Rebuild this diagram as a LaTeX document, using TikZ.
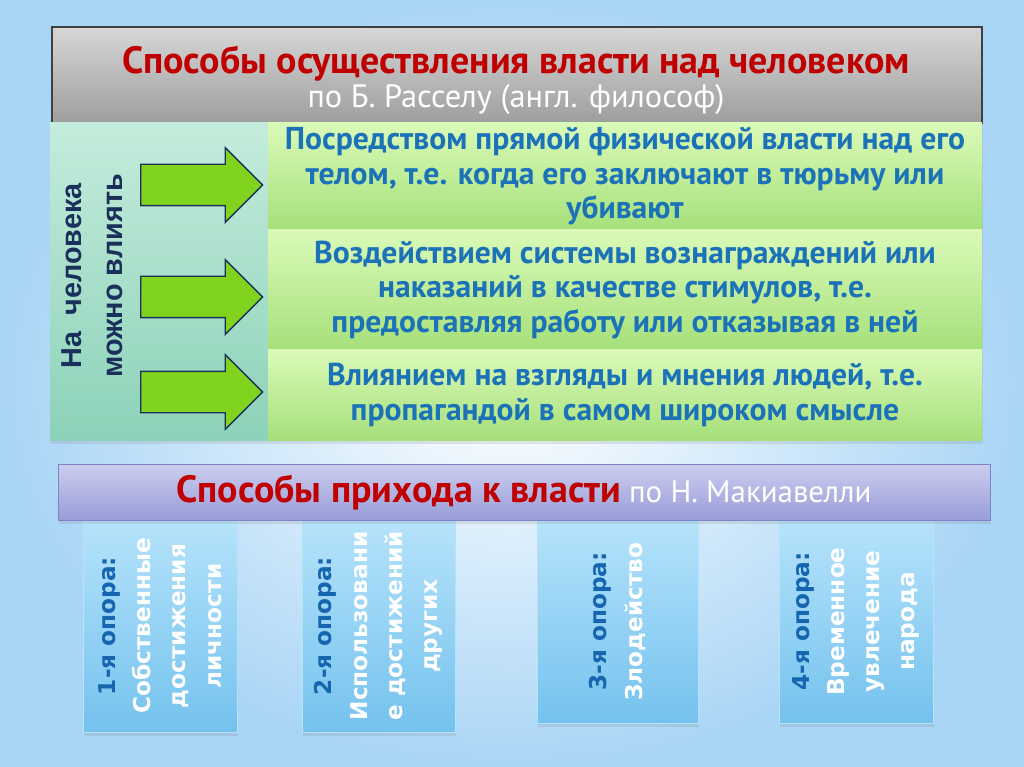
\documentclass[tikz,border=0pt]{standalone}
\usepackage{fontspec}
\setmainfont{PT Sans}
\newfontfamily\sidefont{Liberation Sans}
\newfontfamily\pillarfont{DejaVu Sans}
\usetikzlibrary{shapes.arrows,shadows}
\definecolor{TitleRed}{HTML}{C00000}
\definecolor{Navy}{HTML}{1A2F5A}
\definecolor{RowBlue}{HTML}{1C72B8}
\definecolor{PillarBlue}{HTML}{1565B0}
\definecolor{ArrowGreen}{HTML}{80D41E}
\definecolor{GrayTop}{HTML}{D6D6D6}
\definecolor{GrayBot}{HTML}{9E9E9E}
\definecolor{TealTop}{HTML}{C4ECDC}
\definecolor{TealBot}{HTML}{8CD2B8}
\definecolor{LimeTop}{HTML}{DAFAB8}
\definecolor{LimeBot}{HTML}{A6E07A}
\definecolor{LilacTop}{HTML}{CCCDEE}
\definecolor{LilacBot}{HTML}{989DD8}
\definecolor{LilacLine}{HTML}{7E84CC}
\definecolor{SkyTop}{HTML}{B6E3FB}
\definecolor{SkyBot}{HTML}{74C2EE}
\definecolor{BgBlue}{HTML}{A9D5F6}
\tikzset{
  softshadow/.style={drop shadow={opacity=0.18, shadow xshift=0.03cm, shadow yshift=-0.09cm}},
  titlebox/.style={
    rectangle, draw=black!75, line width=0.8pt, top color=GrayTop, bottom color=GrayBot,
    minimum width=23.25cm, minimum height=2.4cm, softshadow
  },
  sidebox/.style={rectangle, top color=TealTop, bottom color=TealBot, minimum width=5.45cm, minimum height=7.925cm, softshadow},
  sidelabel/.style={rotate=90, align=center, text=Navy, font=\sidefont\bfseries\fontsize{20.5}{29}\selectfont},
  rowbox/.style={
    rectangle, top color=LimeTop, bottom color=LimeBot, minimum width=17.85cm,
    align=center, text=RowBlue, font=\bfseries\fontsize{22.5}{24.5}\selectfont, softshadow
  },
  pushcue/.style={
    single arrow, draw=Navy, line width=0.9pt, fill=ArrowGreen, inner xsep=0pt, inner ysep=0.5cm,
    minimum height=3.05cm, single arrow head extend=0.42cm
  },
  headbar/.style={
    rectangle, draw=LilacLine, line width=0.6pt, top color=LilacTop, bottom color=LilacBot,
    minimum width=23.3cm, minimum height=1.4cm, softshadow
  },
  pillar/.style={rectangle, draw=SkyTop, line width=0.5pt, top color=SkyTop, bottom color=SkyBot, softshadow},
  pillartext/.style={rotate=90, align=center, text=white, font=\pillarfont\bfseries\fontsize{16.5}{25}\selectfont},
}
\begin{document}
\begin{tikzpicture}
  \useasboundingbox (0,0) rectangle (25.6,-19.175);
  \fill[inner color=white, outer color=BgBlue] (0,0) rectangle (25.6,-19.175);

  \node[titlebox] (title) at (12.925,-1.875) {};
  \node[text=TitleRed, font=\bfseries\fontsize{27}{32}\selectfont] (titletext) at (12.9,-1.6) {Способы осуществления власти над человеком};
  \node[text=white, font=\fontsize{23}{27}\selectfont] (subtitle) at (12.9,-2.5) {по Б. Расселу (англ. философ)};

  \node[sidebox] (side) at (3.975,-7.0375) {};
  \node[sidelabel] (sidetext) at (2.31,-6.9) {На\ \ человека\\можно влиять};

  \node[rowbox, minimum height=2.675cm] (rowA) at (15.625,-4.4125) {Посредством прямой физической власти над его\\телом, т.е. когда его заключают в тюрьму или\\убивают};
  \node[rowbox, minimum height=3.0cm] (rowB) at (15.625,-7.25) {Воздействием системы вознаграждений или\\наказаний в качестве стимулов, т.е.\\предоставляя работу или отказывая в ней};
  \node[rowbox, minimum height=2.25cm] (rowC) at (15.625,-9.875) {Влиянием на взгляды и мнения людей, т.е.\\пропагандой в самом широком смысле};

  \node[pushcue, anchor=tail] (cueA) at (3.5,-4.625) {};
  \node[pushcue, anchor=tail] (cueB) at (3.5,-7.425) {};
  \node[pushcue, anchor=tail] (cueC) at (3.5,-9.8) {};

  \node[pillar, minimum width=3.85cm, minimum height=5.3cm] (pillarA) at (4.0,-15.65) {};
  \node[pillar, minimum width=3.825cm, minimum height=5.3cm] (pillarB) at (9.4625,-15.65) {};
  \node[pillar, minimum width=4.025cm, minimum height=5.075cm] (pillarC) at (15.4375,-15.5375) {};
  \node[pillar, minimum width=3.85cm, minimum height=5.075cm] (pillarD) at (21.4,-15.5375) {};
  \node[pillartext] (pillarAtext) at (pillarA.center) {\textcolor{PillarBlue}{1-я опора:}\\Собственные\\достижения\\личности};
  \node[pillartext] (pillarBtext) at (pillarB.center) {\textcolor{PillarBlue}{2-я опора:}\\Использовани\\е достижений\\других};
  \node[pillartext] (pillarCtext) at (pillarC.center) {\textcolor{PillarBlue}{3-я опора:}\\Злодейство};
  \node[pillartext] (pillarDtext) at (pillarD.center) {\textcolor{PillarBlue}{4-я опора:}\\Временное\\увлечение\\народа};

  \node[headbar] (means) at (13.1,-12.3) {\textcolor{TitleRed}{\bfseries\fontsize{27}{30}\selectfont Способы прихода к власти}\textcolor{white}{\fontsize{22}{26}\selectfont\ по Н. Макиавелли}};
\end{tikzpicture}
\end{document}
